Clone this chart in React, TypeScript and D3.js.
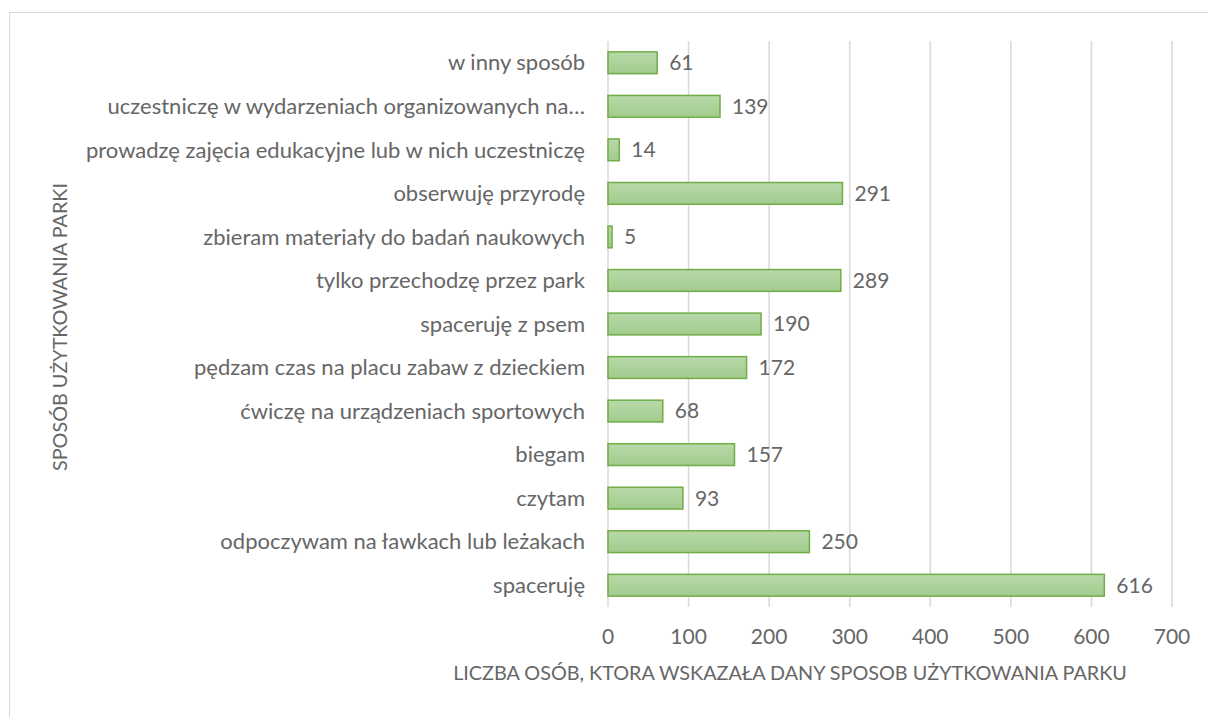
import React from "react";
import * as d3 from "d3";

const categories = [
  "w inny sposób",
  "uczestniczę w wydarzeniach organizowanych na…",
  "prowadzę zajęcia edukacyjne lub w nich uczestniczę",
  "obserwuję przyrodę",
  "zbieram materiały do badań naukowych",
  "tylko przechodzę przez park",
  "spaceruję z psem",
  "pędzam czas na placu zabaw z dzieckiem",
  "ćwiczę na urządzeniach sportowych",
  "biegam",
  "czytam",
  "odpoczywam na ławkach lub leżakach",
  "spaceruję",
];
const values = [61, 139, 14, 291, 5, 289, 190, 172, 68, 157, 93, 250, 616];
const xTicks = [0, 100, 200, 300, 400, 500, 600, 700];
const xTitle = "LICZBA OSÓB, KTORA WSKAZAŁA DANY SPOSOB UŻYTKOWANIA PARKU";
const yTitle = "SPOSÓB UŻYTKOWANIA PARKI";

const W = 1208;
const H = 717;
const left = 608;
const right = 1172;
const top = 41;
const bottom = 607;
const font = "Lato, 'Open Sans', sans-serif";
const textColor = "#666666";

export default function App() {
  const x = d3.scaleLinear().domain([0, 700]).range([left, right]);
  const y = d3.scaleBand<string>().domain(categories).range([top, bottom]).paddingInner(0.5).paddingOuter(0.25);
  const bw = y.bandwidth();
  return (
    <svg width={W} height={H} style={{ position: "absolute", left: 0, top: 0, background: "#fff" }}>
      <defs>
        <linearGradient id="barGrad" x1="0" y1="0" x2="0" y2="1">
          <stop offset="0%" stopColor="#b8d9aa" />
          <stop offset="100%" stopColor="#a2cb8d" />
        </linearGradient>
      </defs>
      <rect x={9.5} y={12.5} width={1220} height={720} fill="#fff" stroke="#d9d9d9" strokeWidth={1} />
      {xTicks.map((t) => (
        <line key={"g" + t} x1={x(t)} x2={x(t)} y1={top} y2={bottom} stroke="#d9d9d9" strokeWidth={1.5} />
      ))}
      {categories.map((c, i) => {
        const yy = y(c)!;
        const cy = yy + bw / 2;
        return (
          <g key={c}>
            <rect x={x(0)} y={yy} width={x(values[i]) - x(0)} height={bw} fill="url(#barGrad)" stroke="#70ad47" strokeWidth={1.5} />
            <text x={585} y={cy} dy="0.35em" textAnchor="end" fontFamily={font} fontSize={22} fill={textColor}>{c}</text>
            <text x={x(values[i]) + 12} y={cy} dy="0.35em" textAnchor="start" fontFamily={font} fontSize={21} fill={textColor}>{values[i]}</text>
          </g>
        );
      })}
      {xTicks.map((t) => (
        <text key={"t" + t} x={x(t)} y={637} dy="0.35em" textAnchor="middle" fontFamily={font} fontSize={21} fill={textColor}>{t}</text>
      ))}
      <text x={790} y={673} dy="0.35em" textAnchor="middle" fontFamily={font} fontSize={19.8} fill={textColor}>{xTitle}</text>
      <text transform={`translate(60,${(top + bottom) / 2 + 3}) rotate(-90)`} dy="0.35em" textAnchor="middle" fontFamily={font} fontSize={19.8} fill={textColor}>{yTitle}</text>
    </svg>
  );
}
